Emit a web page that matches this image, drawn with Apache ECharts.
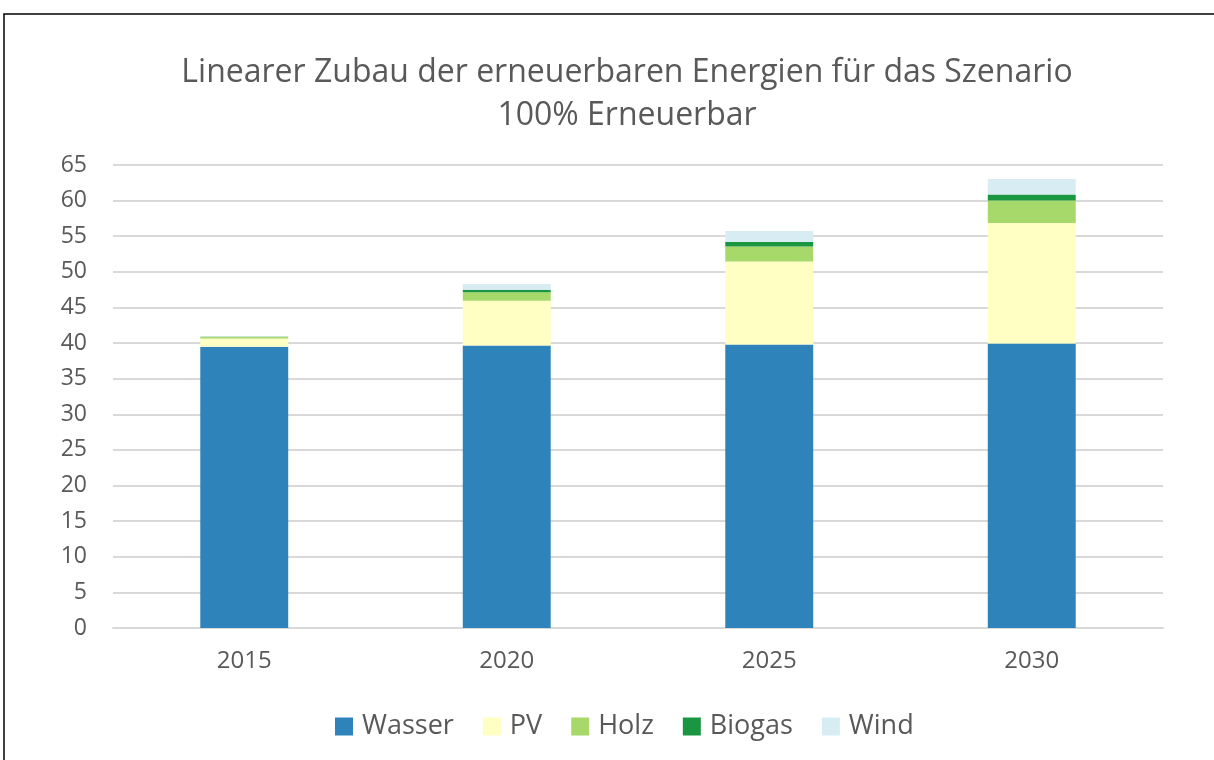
<!DOCTYPE html>
<html>
<head>
<meta charset="utf-8">
<script src="https://cdn.jsdelivr.net/npm/echarts@6/dist/echarts.min.js"></script>
<style>
  html, body { margin: 0; padding: 0; background: #fff; }
  #chart { width: 1214px; height: 760px; }
</style>
</head>
<body>
<div id="chart"></div>
<script>
  // Daten
  var years = ['2015', '2020', '2025', '2030'];
  var wasser = [39.5, 39.65, 39.8, 39.95];
  var pv = [1.15, 6.3, 11.65, 16.9];
  var holz = [0.2, 1.2, 2.1, 3.15];
  var biogas = [0.05, 0.35, 0.65, 0.85];
  var wind = [0.03, 0.8, 1.55, 2.2];
  var yTicks = [0, 5, 10, 15, 20, 25, 30, 35, 40, 45, 50, 55, 60, 65];

  var font = '"Open Sans", "Noto Sans", sans-serif';
  var chart = echarts.init(document.getElementById('chart'));

  function bar(name, data, color) {
    return {
      name: name,
      type: 'bar',
      stack: 'total',
      barWidth: '33.5%',
      data: data,
      itemStyle: { color: color },
      emphasis: { disabled: true }
    };
  }

  chart.setOption({
    backgroundColor: '#fff',
    animation: false,
    graphic: [{
      type: 'rect',
      shape: { x: 4, y: 14, width: 1240, height: 800 },
      style: { fill: 'none', stroke: '#000', lineWidth: 1.5 }
    }],
    title: {
      text: 'Linearer Zubau der erneuerbaren Energien für das Szenario\n100% Erneuerbar',
      left: 622,
      top: 46,
      textAlign: 'center',
      textStyle: {
        fontFamily: font,
        fontWeight: 'normal',
        fontSize: 32,
        lineHeight: 43,
        color: '#595959'
      }
    },
    legend: {
      top: 708,
      left: 330,
      itemWidth: 18,
      itemHeight: 18,
      itemGap: 29,
      icon: 'rect',
      textStyle: { fontFamily: font, fontSize: 27, color: '#595959', padding: [0, 0, 0, 4] },
      data: ['Wasser', 'PV', 'Holz', 'Biogas', 'Wind']
    },
    grid: { left: 113, right: 51, top: 165, bottom: 132 },
    xAxis: {
      type: 'category',
      data: years,
      axisTick: { show: false },
      axisLine: { lineStyle: { color: '#d9d9d9', width: 2 } },
      axisLabel: { fontFamily: font, fontSize: 24, color: '#595959', margin: 21 }
    },
    yAxis: {
      type: 'value',
      min: yTicks[0],
      max: yTicks[yTicks.length - 1],
      interval: 5,
      axisLine: { show: false },
      axisTick: { show: false },
      axisLabel: { fontFamily: font, fontSize: 23, color: '#595959', margin: 26 },
      splitLine: { lineStyle: { color: '#d9d9d9', width: 2 } }
    },
    series: [
      bar('Wasser', wasser, '#2e83ba'),
      bar('PV', pv, '#ffffc4'),
      bar('Holz', holz, '#a6d96a'),
      bar('Biogas', biogas, '#1a9641'),
      bar('Wind', wind, '#d7ecf3')
    ]
  });
</script>
</body>
</html>
